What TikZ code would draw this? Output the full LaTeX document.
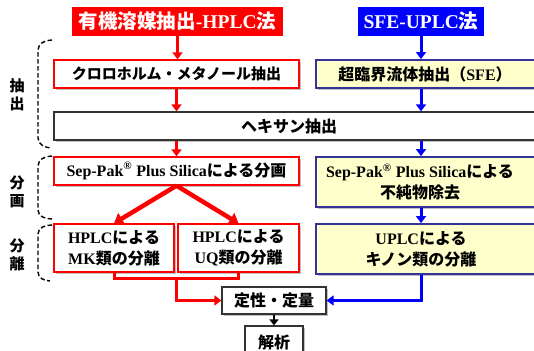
\documentclass[tikz,border=0pt]{standalone}
\usepackage{fontspec}
\setmainfont{Liberation Serif}
\newfontfamily\jpf{Noto Sans CJK JP}
\usetikzlibrary{arrows.meta,shadows}
\newcommand\JP[1]{{\jpf\bfseries #1}}
\newcommand\LT[1]{{\bfseries #1}}
\definecolor{rd}{RGB}{255,0,0}
\definecolor{bl}{RGB}{0,0,255}
\definecolor{navy}{RGB}{51,51,153}
\definecolor{yel}{RGB}{255,255,204}
\begin{document}
\begin{tikzpicture}[x=1pt,y=-1pt,
  shad/.style={drop shadow={shadow xshift=2pt,shadow yshift=-2pt,opacity=0.35,fill=black!70}},
  rbox/.style={draw=rd,line width=1.3pt,fill=white,inner sep=0pt,shad},
  bbox/.style={draw=navy,line width=1.8pt,fill=yel,inner sep=0pt,shad},
  kbox/.style={draw=black!80,line width=1.2pt,fill=white,inner sep=0pt,shad},
  title/.style={inner sep=0pt,text=white,font=\fontsize{19.5}{22}\selectfont},
  txt/.style={font=\fontsize{16}{21}\selectfont,align=center,inner sep=0pt},
  rarr/.style={draw=rd,line width=3pt,-{Triangle[width=10pt,length=7pt]}},
  barr/.style={draw=bl,line width=3pt,-{Triangle[width=10pt,length=7pt]}},
  karr/.style={draw=black,line width=2.2pt,-{Triangle[width=9pt,length=6pt]}},
  brk/.style={draw=black,line width=1.4pt,dash pattern=on 4.5pt off 2.5pt},
  side/.style={font=\fontsize{15}{18}\selectfont,align=center,inner sep=0pt}
]
\useasboundingbox (0,0) rectangle (534,350);

% titles
\node[title,fill=rd,minimum width=211pt,minimum height=29pt] (tr) at (177.5,21.5)
  {\JP{有機溶媒抽出}\LT{-HPLC}\JP{法}};
\node[title,fill=bl,minimum width=126pt,minimum height=29pt] (tb) at (421,21.5)
  {\LT{SFE-UPLC}\JP{法}};

% boxes
\node[rbox,minimum width=245pt,minimum height=28pt] (A1) at (176.5,74) {};
\node[txt,font=\fontsize{15}{18}\selectfont] (A1t) at (176.5,74) {\JP{クロロホルム・メタノール抽出}};
\node[bbox,minimum width=224pt,minimum height=28pt] (B1) at (428,74) {};
\node[txt] (B1t) at (425,74) {\JP{超臨界流体抽出（}\LT{SFE}\JP{）}};
\node[kbox,minimum width=486pt,minimum height=28pt] (Hx) at (297,126) {};
\node[txt] (Hxt) at (289,126) {\JP{ヘキサン抽出}};
\node[rbox,minimum width=245pt,minimum height=28pt] (A2) at (176.5,171) {};
\node[txt] (A2t) at (176.5,171) {\LT{Sep-Pak\textsuperscript{®} Plus Silica}\JP{による分画}};
\node[bbox,minimum width=224pt,minimum height=50pt] (B2) at (428,182) {};
\node[txt] (B2t) at (420,182) {\LT{Sep-Pak\textsuperscript{®} Plus Silica}\JP{による}\\\JP{不純物除去}};
\node[rbox,minimum width=120pt,minimum height=48pt,txt] (A3a) at (114,248)
  {\LT{HPLC}\JP{による}\\\LT{MK}\JP{類の分離}};
\node[rbox,minimum width=121pt,minimum height=48pt,txt] (A3b) at (238.5,248)
  {\LT{HPLC}\JP{による}\\\LT{UQ}\JP{類の分離}};
\node[bbox,minimum width=224pt,minimum height=50pt] (B3) at (428,249) {};
\node[txt] (B3t) at (421,249) {\LT{UPLC}\JP{による}\\\JP{キノン類の分離}};
\node[kbox,minimum width=104pt,minimum height=27pt] (Q) at (274,300.5) {};
\node[txt] (Qt) at (274,300.5) {\JP{定性・定量}};
\node[kbox,minimum width=58pt,minimum height=36pt] (K) at (274,344) {};
\node[txt] (Kt) at (274,342) {\JP{解析}};

% red flow
\draw[rarr] (tr.south) -- (tr.south |- A1.north);
\draw[rarr] (A1.south) -- (A1.south |- Hx.north);
\draw[rarr] (A1.south |- Hx.south) -- (A2.north);
\draw[rarr,line width=4.5pt,-{Triangle[width=13pt,length=9pt]}] (A2.south) -- (A3a.north);
\draw[rarr,line width=4.5pt,-{Triangle[width=13pt,length=9pt]}] (A2.south) -- (A3b.north);
\coordinate (m) at (176.5,278);
\draw[draw=rd,line width=3pt] (A3a.south) |- (m) -| (A3b.south);
\draw[rarr] (m) |- (Q.west);

% blue flow
\draw[barr] (tb.south) -- (tb.south |- B1.north);
\draw[barr] (tb.south |- B1.south) -- (tb.south |- Hx.north);
\draw[barr] (tb.south |- Hx.south) -- (tb.south |- B2.north);
\draw[barr] (tb.south |- B2.south) -- (tb.south |- B3.north);
\draw[barr] (tb.south |- B3.south) |- (Q.east);

% result
\draw[karr] (Q.south) -- (K.north);

% side brackets
\draw[brk] (52,40) to[out=180,in=90] (38,50) -- (38,138) to[out=-90,in=180] (52,148);
\draw[brk] (52,156) to[out=180,in=90] (38,166) -- (38,210) to[out=-90,in=180] (52,219);
\draw[brk] (52,225) to[out=180,in=90] (38,234) -- (38,272) to[out=-90,in=180] (50,281);
\node[side] (s1) at (17,95) {\JP{抽}\\\JP{出}};
\node[side] (s2) at (17,192) {\JP{分}\\\JP{画}};
\node[side] (s3) at (17,255) {\JP{分}\\\JP{離}};
\end{tikzpicture}
\end{document}
